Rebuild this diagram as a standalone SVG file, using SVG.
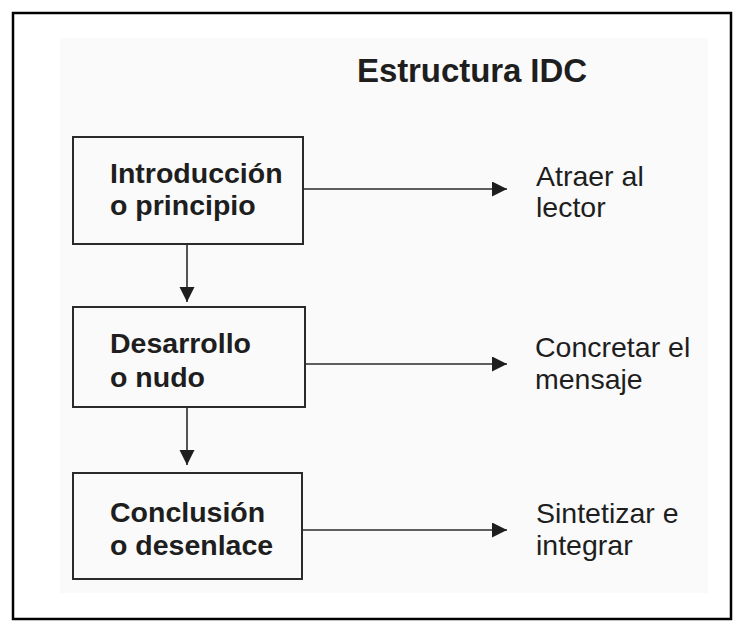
<svg xmlns="http://www.w3.org/2000/svg" width="743" height="631" viewBox="0 0 743 631">
<style>
.box{fill:none;stroke:#2a2a2a;stroke-width:2}
.bt{font-family:"Liberation Sans",Arial,sans-serif;font-weight:bold;font-size:28.5px;fill:#1e1e1e}
.rt{font-family:"Liberation Sans",Arial,sans-serif;font-size:28.5px;fill:#1e1e1e}
.ln{stroke:#2a2a2a;stroke-width:1.6;fill:none}
</style>
<defs>
<marker id="ah" markerWidth="16" markerHeight="16" refX="15" refY="7.5" orient="auto" markerUnits="userSpaceOnUse">
<path d="M0,0 L15,7.5 L0,15 Z" fill="#1e1e1e"/>
</marker>
</defs>
<rect x="0" y="0" width="743" height="631" fill="#ffffff"/>
<rect x="13" y="13" width="718" height="606" fill="none" stroke="#000" stroke-width="2.5"/>
<rect x="60" y="38" width="648" height="555" fill="#fafafa"/>
<text x="357" y="82" font-family="'Liberation Sans',Arial,sans-serif" font-weight="bold" font-size="33" fill="#1e1e1e" textLength="230">Estructura IDC</text>
<g id="n1">
<rect class="box" x="73" y="137" width="230" height="107"/>
<text class="bt" x="110" y="183">Introducción</text>
<text class="bt" x="110" y="215">o principio</text>
</g>
<g id="n2">
<rect class="box" x="73" y="307" width="232" height="100"/>
<text class="bt" x="110" y="353">Desarrollo</text>
<text class="bt" x="110" y="387">o nudo</text>
</g>
<g id="n3">
<rect class="box" x="73" y="473" width="229" height="106"/>
<text class="bt" x="110" y="522">Conclusión</text>
<text class="bt" x="110" y="555">o desenlace</text>
</g>
<g id="r1">
<text class="rt" x="536" y="186">Atraer al</text>
<text class="rt" x="536" y="217">lector</text>
</g>
<g id="r2">
<text class="rt" x="535" y="357">Concretar el</text>
<text class="rt" x="535" y="389">mensaje</text>
</g>
<g id="r3">
<text class="rt" x="536" y="523">Sintetizar e</text>
<text class="rt" x="536" y="555">integrar</text>
</g>
<g id="connectors">
<line class="ln" x1="187" y1="244" x2="187" y2="302" marker-end="url(#ah)"/>
<line class="ln" x1="187" y1="407" x2="187" y2="465" marker-end="url(#ah)"/>
<line class="ln" x1="303" y1="189" x2="507" y2="189" marker-end="url(#ah)"/>
<line class="ln" x1="305" y1="364" x2="507" y2="364" marker-end="url(#ah)"/>
<line class="ln" x1="302" y1="530" x2="507" y2="530" marker-end="url(#ah)"/>
</g>
</svg>
